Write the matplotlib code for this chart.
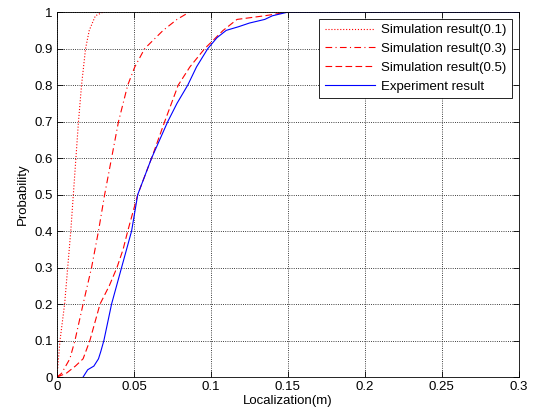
import numpy as np
import matplotlib
matplotlib.use("Agg")
import matplotlib.pyplot as plt

plt.rcParams['font.family'] = ['Liberation Sans', 'DejaVu Sans']
plt.rcParams['font.size'] = 9.5

# CDF points (x in m, cumulative probability)
sim01_x = [0.0, 0.002, 0.005, 0.007, 0.009, 0.0115, 0.014, 0.016, 0.0186, 0.021, 0.025, 0.030]
sim01_y = [0.0, 0.1, 0.2, 0.3, 0.4, 0.55, 0.7, 0.8, 0.9, 0.95, 0.99, 1.0]

sim03_x = [0.0, 0.003, 0.0084, 0.0117, 0.017, 0.0225, 0.027, 0.031, 0.0355, 0.040,
           0.046, 0.0506, 0.057, 0.069, 0.078, 0.086]
sim03_y = [0.0, 0.01, 0.05, 0.1, 0.2, 0.3, 0.4, 0.5, 0.6, 0.7,
           0.8, 0.85, 0.9, 0.95, 0.98, 1.0]

sim05_x = [0.0, 0.006, 0.012, 0.017, 0.0214, 0.028, 0.034, 0.039, 0.043, 0.046, 0.0525,
           0.0615, 0.070, 0.0788, 0.0864, 0.096, 0.108, 0.117, 0.135, 0.150]
sim05_y = [0.0, 0.01, 0.03, 0.05, 0.1, 0.2, 0.25, 0.3, 0.35, 0.4, 0.5,
           0.6, 0.7, 0.8, 0.85, 0.9, 0.95, 0.98, 0.99, 1.0]

exp_x = [0.017, 0.020, 0.024, 0.027, 0.0285, 0.0305, 0.0355, 0.042, 0.0485, 0.0525,
         0.057, 0.0615, 0.072, 0.078, 0.085, 0.0907, 0.098, 0.104, 0.110, 0.118,
         0.125, 0.135, 0.140, 0.150, 0.300]
exp_y = [0.0, 0.02, 0.03, 0.05, 0.07, 0.1, 0.2, 0.3, 0.4, 0.5,
         0.55, 0.6, 0.7, 0.75, 0.8, 0.85, 0.9, 0.93, 0.95, 0.96,
         0.97, 0.98, 0.99, 1.0, 1.0]

fig = plt.figure(figsize=(5.37, 4.18), dpi=100)
ax = fig.add_axes([0.106, 0.098, 0.86, 0.873])

ax.plot(sim01_x, sim01_y, color='r', linestyle=':', lw=0.8, label='Simulation result(0.1)')
ax.plot(sim03_x, sim03_y, color='r', linestyle=(0, (6, 3, 1, 3)), lw=0.8,
        label='Simulation result(0.3)')
ax.plot(sim05_x, sim05_y, color='r', linestyle=(0, (6, 3)), lw=0.8,
        label='Simulation result(0.5)')
ax.plot(exp_x, exp_y, color='b', linestyle='-', lw=0.8, label='Experiment result')

ax.set_xlim(0, 0.3)
ax.set_ylim(0, 1)
ax.set_xticks(np.arange(0, 0.301, 0.05))
ax.set_xticklabels(['0', '0.05', '0.1', '0.15', '0.2', '0.25', '0.3'])
ax.set_yticks(np.arange(0, 1.01, 0.1))
ax.set_yticklabels(['0'] + ['%.1f' % v for v in np.arange(0.1, 0.95, 0.1)] + ['1'])
ax.tick_params(direction='in', top=True, right=True, length=4, width=0.6, pad=3)
ax.grid(True, color='k', linestyle=':', linewidth=0.6)
for s in ax.spines.values():
    s.set_linewidth(0.6)

ax.set_xlabel('Localization(m)', labelpad=1)
ax.set_ylabel('Probability', labelpad=4)

leg = ax.legend(loc='upper right', fancybox=False, edgecolor='k', framealpha=1,
                borderaxespad=0.5, handlelength=3.8, handletextpad=0.5,
                labelspacing=0.5, borderpad=0.4)
leg.get_frame().set_linewidth(0.6)

fig.savefig('out.png', dpi=100)
